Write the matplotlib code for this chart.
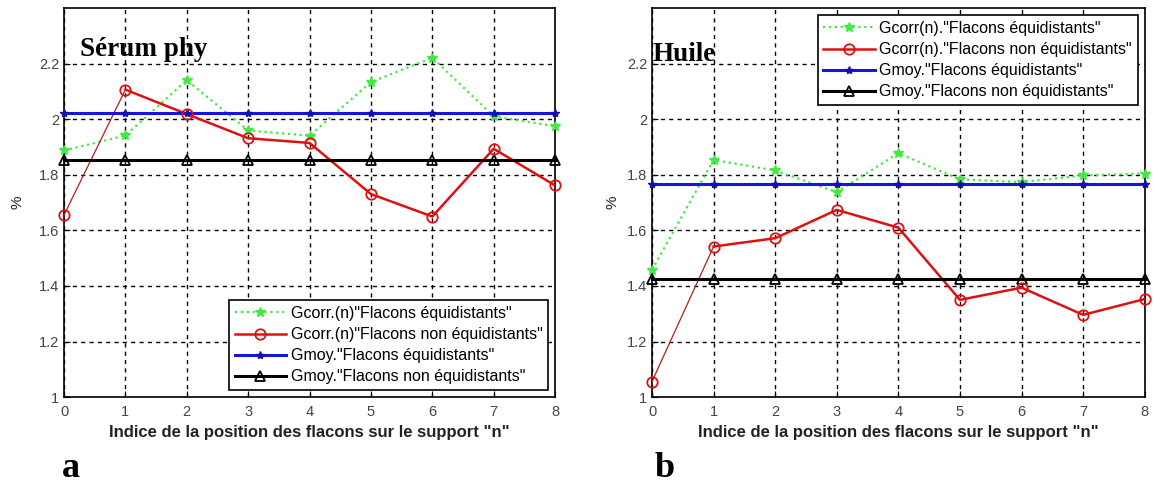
import numpy as np
import matplotlib
matplotlib.use('Agg')
import matplotlib.pyplot as plt

plt.rcParams['font.family'] = ['Liberation Sans', 'DejaVu Sans']

# positions des flacons
n = [0, 1, 2, 3, 4, 5, 6, 7, 8]

# (a) Sérum phy
serum_corr_eq = [1.888, 1.942, 2.141, 1.960, 1.941, 2.134, 2.222, 2.011, 1.975]
serum_corr_neq = [1.656, 2.107, 2.019, 1.932, 1.915, 1.731, 1.650, 1.894, 1.762]
serum_moy_eq = 2.024
serum_moy_neq = 1.853

# (b) Huile
huile_corr_eq = [1.458, 1.854, 1.816, 1.738, 1.878, 1.784, 1.774, 1.798, 1.805]
huile_corr_neq = [1.056, 1.542, 1.572, 1.674, 1.610, 1.350, 1.394, 1.296, 1.353]
huile_moy_eq = 1.768
huile_moy_neq = 1.426

labels_a = ['Gcorr.(n)"Flacons équidistants"',
            'Gcorr.(n)"Flacons non équidistants"',
            'Gmoy."Flacons équidistants"',
            'Gmoy."Flacons non équidistants"']
labels_b = ['Gcorr(n)."Flacons équidistants"',
            'Gcorr(n)."Flacons non équidistants"',
            'Gmoy."Flacons équidistants"',
            'Gmoy."Flacons non équidistants"']

fig = plt.figure(figsize=(11.54, 4.86), dpi=100)
ax1 = fig.add_axes([0.0555, 0.183, 0.4255, 0.800])
ax2 = fig.add_axes([0.565, 0.183, 0.427, 0.800])

VERT = '#44e844'
ROUGE = '#dd1111'
BLEU = '#1515dd'


def trace(ax, corr_eq, corr_neq, moy_eq, moy_neq, labels, titre, tx, ty, loc, ylx):
    x = np.array(n)
    y_neq = np.array(corr_neq)
    ax.plot(x, corr_eq, ls=':', lw=1.6, color=VERT, marker='*', ms=7,
            mfc=VERT, mec=VERT, label=labels[0], zorder=3, clip_on=False)
    # premier segment plus fin, comme sur la figure d'origine
    ax.plot(x[:2], y_neq[:2], ls='-', lw=0.9, color='#b02020', zorder=3)
    ax.plot(x[1:], y_neq[1:], ls='-', lw=1.8, color=ROUGE, zorder=3)
    ax.plot(x, y_neq, ls='none', marker='o', ms=7.5, mfc='none', mec=ROUGE,
            mew=1.3, zorder=4, clip_on=False)
    ax.plot([], [], ls='-', lw=1.8, color=ROUGE, marker='o', ms=7.5,
            mfc='none', mec=ROUGE, mew=1.3, label=labels[1])
    ax.plot(x, [moy_eq] * len(x), ls='-', lw=2.2, color=BLEU, marker='*',
            ms=6, mfc='#1010aa', mec='#1010aa', label=labels[2], zorder=3, clip_on=False)
    ax.plot(x, [moy_neq] * len(x), ls='-', lw=2.2, color='black', marker='^',
            ms=7, mfc='none', mec='black', mew=1.3, label=labels[3], zorder=3, clip_on=False)
    ax.set_xlim(0, 8)
    ax.set_ylim(1, 2.4)
    ax.set_xticks(range(9))
    ax.set_yticks([1, 1.2, 1.4, 1.6, 1.8, 2, 2.2])
    ax.set_yticklabels(['1', '1.2', '1.4', '1.6', '1.8', '2', '2.2'])
    ax.tick_params(direction='in', labelsize=10.5, labelcolor='#444444', length=4)
    ax.tick_params(axis='x', pad=6)
    ax.grid(True, ls=(0, (3, 3)), color='black', lw=1)
    for s in ax.spines.values():
        s.set_linewidth(1.2)
    ax.set_xlabel('Indice de la position des flacons sur le support "n"',
                  fontsize=12, fontweight='bold', color='#222222', labelpad=4)
    ax.set_ylabel('%', fontsize=11, color='#222222')
    ax.yaxis.set_label_coords(ylx, 0.5)
    ax.text(tx, ty, titre, transform=ax.transAxes, family='Liberation Serif',
            fontweight='bold', fontsize=19.5, va='center', ha='left', zorder=5)
    leg = ax.legend(loc=loc, fontsize=11.5, fancybox=False, framealpha=1,
                    edgecolor='black', handlelength=3.2, borderpad=0.35,
                    labelspacing=0.38, handletextpad=0.3, borderaxespad=0.45)
    leg.get_frame().set_linewidth(1.2)


trace(ax1, serum_corr_eq, serum_corr_neq, serum_moy_eq, serum_moy_neq,
      labels_a, 'Sérum phy', 0.033, 0.895, 'lower right', -0.08)
trace(ax2, huile_corr_eq, huile_corr_neq, huile_moy_eq, huile_moy_neq,
      labels_b, 'Huile', 0.002, 0.88, 'upper right', -0.065)

fig.text(0.0537, 0.003, 'a', family='Liberation Serif', fontweight='bold',
         fontsize=26, va='bottom')
fig.text(0.5676, 0.003, 'b', family='Liberation Serif', fontweight='bold',
         fontsize=26, va='bottom')

fig.savefig('out.png', dpi=100)
